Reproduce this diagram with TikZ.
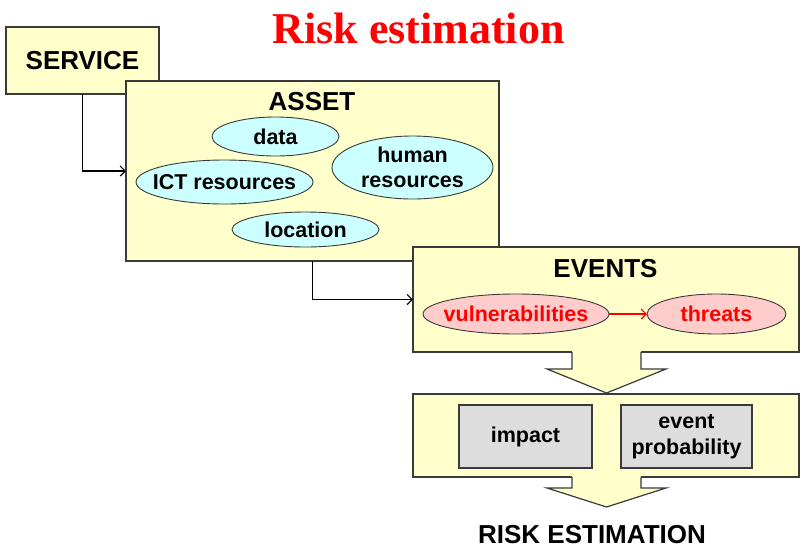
\documentclass[tikz,border=0pt]{standalone}
\usepackage{fontspec}
\setmainfont{Liberation Sans}
\newfontfamily\titlefont{Liberation Serif}
\usetikzlibrary{shapes.geometric,arrows.meta}
\definecolor{ylw}{HTML}{FFFFCC}
\definecolor{cyn}{HTML}{CCFFFF}
\definecolor{pnk}{HTML}{FFCCCC}
\definecolor{gry}{HTML}{DDDDDD}
\definecolor{edge}{HTML}{3A3A3A}
\begin{document}
\begin{tikzpicture}[x=1pt,y=-1pt,
  box/.style={draw=edge, fill=ylw, line width=1.2pt, inner sep=0pt, outer sep=0pt, rectangle},
  ovaltxt/.style={inner sep=0pt, align=center, font=\fontsize{21.5}{25.5}\selectfont\bfseries},
  oval/.style={ellipse, draw=edge, line width=0.9pt, fill=cyn, inner sep=0pt, outer sep=0pt},
  redoval/.style={oval, fill=pnk},
  grybox/.style={rectangle, draw=edge, line width=1.1pt, fill=gry, inner sep=0pt, outer sep=0pt, align=center, font=\fontsize{21.5}{25.5}\selectfont\bfseries},
  bigtxt/.style={font=\fontsize{26}{30}\selectfont\bfseries, inner sep=0pt, anchor=base},
  conn/.style={draw=black, line width=1.3pt, -{Straight Barb[length=5pt,width=10pt,line width=1.2pt]}},
  blockarrow/.style={draw=edge, line width=1.2pt}
]
\useasboundingbox (0,0) rectangle (812,558);

% title
\node[font=\titlefont\fontsize{44}{50}\selectfont\bfseries, text=red, inner sep=0pt, anchor=base] (title) at (418.5,43) {Risk estimation};

% boxes
\node[box, minimum width=153pt, minimum height=67pt, font=\fontsize{26}{30}\selectfont\bfseries] (service) at (82.5,60.5) {SERVICE};
\node[box, minimum width=373pt, minimum height=180pt] (asset) at (312.5,171) {};
\node[bigtxt] (assetlbl) at (312,110) {ASSET};

\node[oval, minimum width=127pt, minimum height=39pt, label={[ovaltxt]center:data}] (data) at (275.5,136.5) {};
\node[oval, minimum width=161pt, minimum height=63pt, label={[ovaltxt]center:human\\resources}] (human) at (412.5,167.5) {};
\node[oval, minimum width=177pt, minimum height=44pt, label={[ovaltxt]center:ICT resources}] (ict) at (224.5,182) {};
\node[oval, minimum width=147pt, minimum height=35pt, label={[ovaltxt]center:location}] (loc) at (305.5,229.5) {};

\node[box, minimum width=386pt, minimum height=105pt] (events) at (606,299.5) {};
\node[bigtxt] (eventslbl) at (605.5,277) {EVENTS};
\node[redoval, minimum width=186pt, minimum height=40pt, label={[ovaltxt, text=red]center:vulnerabilities}] (vul) at (516,314) {};
\node[redoval, minimum width=139pt, minimum height=40pt, label={[ovaltxt, text=red]center:threats}] (thr) at (716.5,314) {};

\node[box, minimum width=386pt, minimum height=83pt] (calc) at (606,435.5) {};
\node[grybox, minimum width=133pt, minimum height=63pt] (impact) at (525.5,436.5) {impact};
\node[grybox, minimum width=131pt, minimum height=63pt] (prob) at (686.5,436.5) {event\\probability};

\node[bigtxt] (riskest) at (592,543) {RISK ESTIMATION};

% connectors
\draw[conn] (service.south) |- (asset.west);
\draw[conn] (asset.south) |- (events.west);
\draw[draw=red, line width=1.3pt, -{Straight Barb[length=5pt,width=10pt,line width=1.2pt]}] (vul.east) -- (thr.west);

% block arrows
\fill[ylw] (572,351) -- (572,369) -- (547,369) -- (606.5,393) -- (666,369) -- (641,369) -- (641,351) -- cycle;
\draw[blockarrow] (572,352) -- (572,369) -- (547,369) -- (606.5,393) -- (666,369) -- (641,369) -- (641,352);
\fill[ylw] (572,476) -- (572,488) -- (547,488) -- (606.5,507) -- (666,488) -- (641,488) -- (641,476) -- cycle;
\draw[blockarrow] (572,477) -- (572,488) -- (547,488) -- (606.5,507) -- (666,488) -- (641,488) -- (641,477);
\end{tikzpicture}
\end{document}
